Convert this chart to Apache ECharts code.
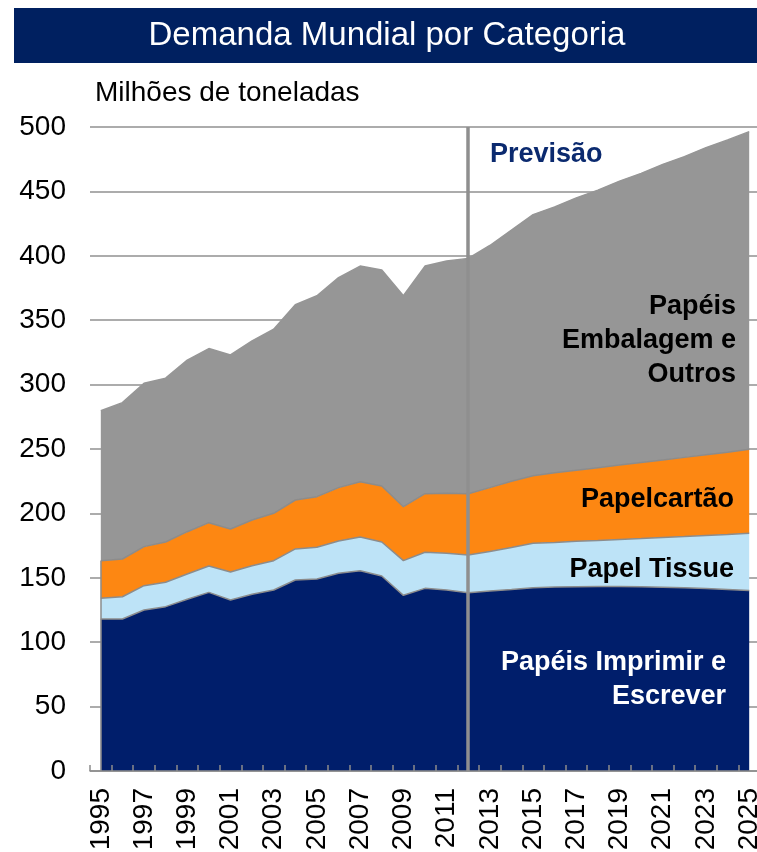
<!DOCTYPE html>
<html>
<head>
<meta charset="utf-8">
<script src="https://cdn.jsdelivr.net/npm/echarts@6/dist/echarts.min.js"></script>
<style>
    html, body { margin: 0; padding: 0; background: #fff; }
    #chart { width: 757px; height: 852px; }
</style>
</head>
<body>
<div id="chart"></div>
<script>
// Data (milhões de toneladas)
const years = ['1995', '1996', '1997', '1998', '1999', '2000', '2001', '2002', '2003', '2004',
    '2005', '2006', '2007', '2008', '2009', '2010', '2011', '2012', '2013', '2014',
    '2015', '2016', '2017', '2018', '2019', '2020', '2021', '2022', '2023', '2024', '2025'];

const imprimirEscrever = [118, 118, 125, 127.6, 133.3, 138.7, 132.8, 137.2, 140.5, 148.3,
    149.1, 153.5, 155.5, 151.4, 136.4, 141.8, 140.5, 138.4, 139.8, 141,
    142.3, 142.8, 143, 143.2, 143.2, 143, 142.7, 142.2, 141.6, 140.9, 140.2];

const tissue = [16.1, 17.3, 18.9, 18.9, 19.6, 20.5, 21.7, 22.2, 22.8, 24.1,
    24.6, 25.1, 26.2, 26.4, 26.9, 28, 28.5, 29.3, 30.7, 32.5,
    34.5, 34.7, 35.3, 35.8, 36.6, 37.5, 38.6, 39.8, 41.2, 42.7, 44.3];

const papelcartao = [29.2, 29.3, 30.3, 31.3, 32.9, 33.6, 33.4, 35.5, 36.8, 38,
    39.3, 41.4, 42.9, 43.5, 41.9, 45.5, 46.6, 47.5, 49.5, 51.5,
    52.5, 54, 55.2, 56.5, 57.7, 59, 60.2, 61.5, 62.7, 63.9, 65.3];

const embalagemOutros = [116.4, 121.4, 126.8, 127.2, 133.2, 135.2, 135.1, 139.1, 142.9, 151.6,
    156, 163, 167.4, 167.7, 163.8, 176.7, 180.4, 182.8, 188, 195,
    202.7, 206.5, 211.5, 215.5, 220.5, 224.5, 229.5, 233.5, 238.5, 242.5, 246.6];

const forecastStart = '2012';

// Colors
const navy = '#001e6b';
const lightBlue = '#bde3f7';
const orange = '#fd8712';
const gray = '#969696';
const borderGray = '#8c8c8c';
const fontFamily = '"Liberation Sans", Arial, sans-serif';

const chart = echarts.init(document.getElementById('chart'));

// Left edge of the stacked block (Excel draws an outline round each area)
const leftTop = imprimirEscrever[0] + tissue[0] + papelcartao[0];

function areaSeries(name, data, color, z, lineColor) {
    return {
        name: name,
        type: 'line',
        stack: 'total',
        data: data,
        z: z,
        symbol: 'none',
        showSymbol: false,
        silent: true,
        emphasis: { disabled: true },
        lineStyle: { color: lineColor || borderGray, width: 1.5 },
        areaStyle: { color: color, opacity: 1 }
    };
}

const series = [
    areaSeries('Papéis Imprimir e Escrever', imprimirEscrever, navy, 6),
    areaSeries('Papel Tissue', tissue, lightBlue, 5),
    areaSeries('Papelcartão', papelcartao, orange, 4),
    areaSeries('Papéis Embalagem e Outros', embalagemOutros, gray, 3, gray)
];

// Forecast divider at 2012, drawn above every area
series[0].markLine = {
    silent: true,
    z: 20,
    symbol: 'none',
    label: { show: false },
    lineStyle: { color: '#8f8f8f', width: 3.5, type: 'solid' },
    data: [
        { xAxis: forecastStart },
        [
            { coord: [years[0], 0], lineStyle: { color: borderGray, width: 1.5, type: 'solid' } },
            { coord: [years[0], leftTop] }
        ]
    ]
};

const boldLabel = (text, x, y, fill, align) => ({
    type: 'text',
    x: x,
    y: y,
    z: 100,
    silent: true,
    style: {
        text: text,
        fill: fill,
        fontSize: 27,
        fontWeight: 'bold',
        fontFamily: fontFamily,
        align: align || 'right',
        verticalAlign: 'middle'
    }
});

const options = {
    animation: false,
    backgroundColor: '#fff',
    grid: {
        left: 90,
        top: 127,
        width: 670,
        height: 644,
        outerBoundsMode: 'none',
        containLabel: false
    },
    xAxis: {
        type: 'category',
        data: years,
        boundaryGap: true,
        axisLine: { show: true, lineStyle: { color: borderGray, width: 1.5 } },
        axisTick: {
            show: true,
            inside: true,
            interval: 0,
            length: 6,
            lineStyle: { color: borderGray, width: 1.5 }
        },
        axisLabel: {
            interval: 1,
            rotate: 90,
            margin: 17,
            color: '#000',
            fontSize: 28,
            fontFamily: fontFamily
        },
        splitLine: { show: false },
        z: 10
    },
    yAxis: {
        type: 'value',
        min: 0,
        max: 500,
        interval: 50,
        name: 'Milhões de toneladas',
        nameLocation: 'end',
        nameGap: 20,
        nameTextStyle: {
            color: '#000',
            fontSize: 28,
            fontFamily: fontFamily,
            align: 'left',
            padding: [0, 0, 0, 5]
        },
        axisLine: { show: false },
        axisTick: { show: false },
        axisLabel: {
            margin: 24,
            color: '#000',
            fontSize: 28,
            fontFamily: fontFamily
        },
        splitLine: { lineStyle: { color: '#909090', width: 1.5 } }
    },
    graphic: [
        {
            type: 'rect',
            x: 14,
            y: 8,
            shape: { width: 743, height: 55 },
            style: { fill: '#002060' },
            silent: true
        },
        {
            type: 'text',
            x: 387,
            y: 36,
            z: 100,
            silent: true,
            style: {
                text: 'Demanda Mundial por Categoria',
                fill: '#fff',
                fontSize: 33,
                fontFamily: fontFamily,
                align: 'center',
                verticalAlign: 'middle'
            }
        },
        boldLabel('Previsão', 490, 155, '#0b2a6f', 'left'),
        boldLabel('Papéis', 736, 307, '#000'),
        boldLabel('Embalagem e', 736, 341, '#000'),
        boldLabel('Outros', 736, 375, '#000'),
        boldLabel('Papelcartão', 734, 500, '#000'),
        boldLabel('Papel Tissue', 734, 570, '#000'),
        boldLabel('Papéis Imprimir e', 726, 663, '#fff'),
        boldLabel('Escrever', 726, 697, '#fff')
    ],
    series: series
};

chart.setOption(options);
</script>
</body>
</html>
